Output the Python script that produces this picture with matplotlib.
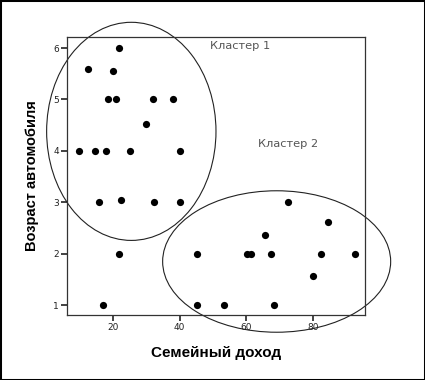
import matplotlib
import numpy as np
from matplotlib import pyplot as plt
from matplotlib.patches import Ellipse, Rectangle

matplotlib.use("Agg")

# family income vs car age
income = [9.8, 12.6, 14.7, 15.9, 17.0, 17.8, 18.6, 20.0, 21.0, 21.9, 21.9, 22.5,
          25.0, 29.8, 32.1, 32.4, 37.9, 40.1, 40.1, 45.1, 45.1, 53.2, 60.2, 61.3,
          65.5, 67.4, 68.3, 72.4, 80.1, 82.3, 84.4, 92.5]
car_age = [4.0, 5.59, 4.0, 3.0, 1.0, 4.0, 5.0, 5.55, 5.0, 6.0, 2.0, 3.05,
           4.0, 4.52, 5.0, 3.01, 5.0, 4.0, 3.0, 2.0, 1.0, 1.0, 2.0, 2.0,
           2.36, 2.0, 1.0, 3.0, 1.57, 2.0, 2.61, 2.0]

# cluster outlines: centre x, centre y, width, height (data units)
cluster_names = ["Кластер 1", "Кластер 2"]
cluster_centres = [(25.5, 4.38), (69.1, 1.85)]
cluster_sizes = [(50.8, 4.24), (68.4, 2.75)]
label_pos = [(58.0, 6.03), (72.5, 4.14)]

x_ticks = [20, 40, 60, 80]
y_ticks = [1, 2, 3, 4, 5, 6]

fig = plt.figure(figsize=(4.25, 3.8), dpi=100)
ax = fig.add_axes([67.3 / 425, 1 - 315 / 380, (365 - 67.3) / 425, (315 - 36.7) / 380])

ax.scatter(income, car_age, s=27, color="black", zorder=3, linewidths=0)

for centre, size in zip(cluster_centres, cluster_sizes):
    ax.add_patch(Ellipse(centre, size[0], size[1], fill=False, edgecolor="#222222",
                         linewidth=0.8, clip_on=False, zorder=2))

for name, (lx, ly) in zip(cluster_names, label_pos):
    ax.text(lx, ly, name, fontsize=8.2, color="#555555", ha="center", va="center",
            family="DejaVu Sans")

ax.set_xlim(6.3, 95.6)
ax.set_ylim(0.81, 6.22)
ax.set_xticks(x_ticks)
ax.set_yticks(y_ticks)
ax.tick_params(direction="out", length=4, width=1.2, labelsize=6.5, pad=2, colors="#222222")
for spine in ax.spines.values():
    spine.set_linewidth(0.9)
    spine.set_color("#333333")

ax.set_xlabel("Семейный доход", fontsize=11, fontweight="bold", family="Liberation Sans",
              labelpad=10)
ax.set_ylabel("Возраст автомобиля", fontsize=10.5, fontweight="bold", family="Liberation Sans",
              labelpad=10)

fig.patches.append(Rectangle((0, 0), 1, 1, transform=fig.transFigure, fill=False,
                             edgecolor="black", linewidth=2.2))

fig.savefig("out.png", dpi=100)
plt.close(fig)
